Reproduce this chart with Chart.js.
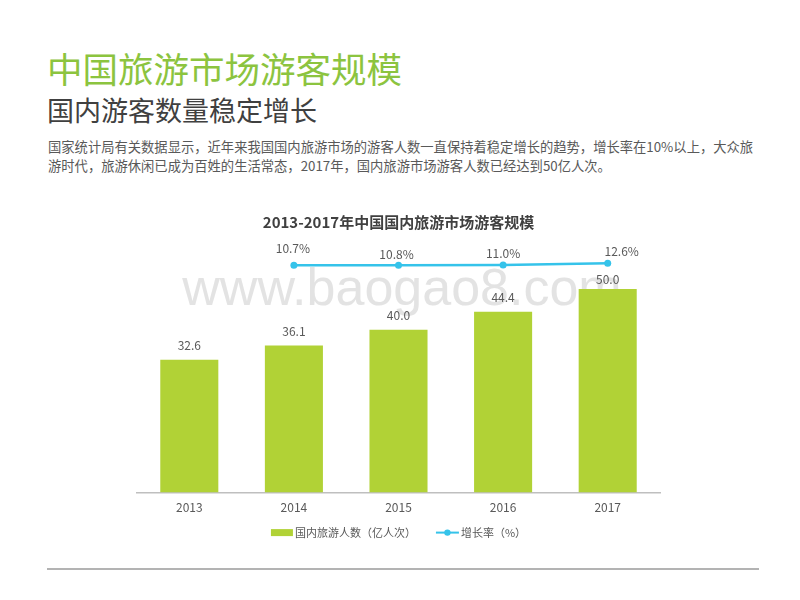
<!DOCTYPE html>
<html>
<head>
<meta charset="utf-8">
<script src="https://cdn.jsdelivr.net/npm/chart.js@4.4.1/dist/chart.umd.min.js"></script>
<style>
  html, body { margin: 0; padding: 0; }
  body {
    width: 800px; height: 600px; position: relative; overflow: hidden; background: #ffffff;
    font-family: "Noto Sans CJK SC", "Noto Sans", sans-serif;
  }
  .title {
    position: absolute; left: 47px; top: 44px; font-size: 35.5px; line-height: 48px;
    color: #8cc43f; white-space: nowrap;
  }
  .subtitle {
    position: absolute; left: 47px; top: 93px; font-size: 27px; line-height: 34px;
    color: #404040; white-space: nowrap;
  }
  .intro {
    position: absolute; left: 48px; top: 137px; font-size: 13.3px; line-height: 19px;
    color: #595959; white-space: nowrap;
  }
  .rule {
    position: absolute; left: 47px; top: 568px; width: 712px; height: 2px; background: #b3b3b3;
  }
  #wrap { position: absolute; left: 0; top: 195px; width: 800px; height: 365px; }
</style>
</head>
<body>
<div class="title">中国旅游市场游客规模</div>
<div class="subtitle">国内游客数量稳定增长</div>
<div class="intro">国家统计局有关数据显示，近年来我国国内旅游市场的游客人数一直保持着稳定增长的趋势，增长率在10%以上，大众旅<br>游时代，旅游休闲已成为百姓的生活常态，2017年，国内旅游市场游客人数已经达到50亿人次。</div>
<div id="wrap"><canvas id="chart" width="800" height="365"></canvas></div>
<div class="rule"></div>

<script>
// Years on the category axis
const years = ['2013', '2014', '2015', '2016', '2017'];
// Domestic tourist visits, 100 million trips
const visitors = [32.6, 36.1, 40.0, 44.4, 50.0];
// Year-on-year growth rate, %
const growthRate = [null, 10.7, 10.8, 11.0, 12.6];

const seriesNames = ['国内旅游人数（亿人次）', '增长率（%）'];
const chartTitle = '2013-2017年中国国内旅游市场游客规模';
const watermark = 'www.baogao8.com';

const BAR_COLOR = '#b1d236';
const LINE_COLOR = '#35c3ea';
const LABEL_COLOR = '#595959';
const FONT = '"Noto Sans CJK SC", "Noto Sans", sans-serif';

// Nudges for the rate labels (dx, dy from the point), one per year
const rateLabelShift = [[0, -15], [-1, -17], [-2, -11], [0, -12], [14, -12]];

const watermarkPlugin = {
  id: 'watermark',
  beforeDatasetsDraw(chart) {
    const { ctx, chartArea } = chart;
    ctx.save();
    ctx.font = '52px "Liberation Sans", Arial, sans-serif';
    ctx.fillStyle = 'rgba(200,200,200,0.5)';
    ctx.textAlign = 'center';
    ctx.textBaseline = 'alphabetic';
    ctx.fillText(watermark, 402, chartArea.top + 60);
    ctx.restore();
  }
};

const valueLabelPlugin = {
  id: 'valueLabels',
  afterDatasetsDraw(chart) {
    const { ctx } = chart;
    ctx.save();
    ctx.font = '12px ' + FONT;
    ctx.fillStyle = LABEL_COLOR;
    ctx.textAlign = 'center';
    ctx.textBaseline = 'middle';
    chart.getDatasetMeta(0).data.forEach((bar, i) => {
      const offset = i === visitors.length - 1 ? 10 : 14;
      ctx.fillText(visitors[i].toFixed(1), bar.x, bar.y - offset);
    });
    chart.getDatasetMeta(1).data.forEach((pt, i) => {
      if (growthRate[i] == null) return;
      const [dx, dy] = rateLabelShift[i];
      ctx.fillText(growthRate[i].toFixed(1) + '%', pt.x + dx, pt.y + dy);
    });
    ctx.restore();
  }
};

// Legend under the axis: a bar block for the visitors, a line with a dot for the rate
const seriesLegendPlugin = {
  id: 'seriesLegend',
  afterDraw(chart) {
    const { ctx, chartArea } = chart;
    const ds = chart.data.datasets;
    const y = chartArea.bottom + 40;
    const swatchW = [22, 23];
    const textGap = 2, itemGap = 20;
    ctx.save();
    ctx.font = '11px ' + FONT;
    ctx.textBaseline = 'middle';
    ctx.textAlign = 'left';
    const widths = ds.map((d, i) => swatchW[i] + textGap + ctx.measureText(d.label).width);
    const total = widths[0] + itemGap + widths[1];
    let x = (chartArea.left + chartArea.right) / 2 - total / 2;
    ds.forEach((d, i) => {
      if (d.type === 'bar') {
        ctx.fillStyle = d.backgroundColor;
        ctx.fillRect(x, y - 3.5, swatchW[i], 7);
      } else {
        ctx.strokeStyle = d.borderColor;
        ctx.lineWidth = 2;
        ctx.beginPath(); ctx.moveTo(x, y); ctx.lineTo(x + swatchW[i], y); ctx.stroke();
        ctx.fillStyle = d.borderColor;
        ctx.beginPath(); ctx.arc(x + swatchW[i] / 2, y, 3.2, 0, Math.PI * 2); ctx.fill();
      }
      ctx.fillStyle = LABEL_COLOR;
      ctx.fillText(d.label, x + swatchW[i] + textGap, y);
      x += widths[i] + itemGap;
    });
    ctx.restore();
  }
};

new Chart(document.getElementById('chart'), {
  data: {
    labels: years,
    datasets: [
      {
        type: 'bar',
        label: seriesNames[0],
        data: visitors,
        backgroundColor: BAR_COLOR,
        yAxisID: 'y',
        categoryPercentage: 1,
        barPercentage: 0.555,
        order: 2
      },
      {
        type: 'line',
        label: seriesNames[1],
        data: growthRate,
        borderColor: LINE_COLOR,
        backgroundColor: LINE_COLOR,
        borderWidth: 2.5,
        pointRadius: 3.5,
        pointBackgroundColor: LINE_COLOR,
        pointBorderWidth: 0,
        tension: 0,
        yAxisID: 'y2',
        order: 1
      }
    ]
  },
  options: {
    responsive: false,
    animation: false,
    layout: { padding: { left: 137, right: 140, top: 0, bottom: 37 } },
    scales: {
      x: {
        grid: { display: false, drawTicks: false },
        border: { display: true, color: '#bfbfbf', width: 1.5 },
        ticks: { color: LABEL_COLOR, font: { family: FONT, size: 12 }, padding: 8 }
      },
      y: { display: false, min: 0, max: 60.8 },
      y2: { display: false, min: -205, max: 30 }
    },
    plugins: {
      title: {
        display: true,
        text: chartTitle,
        color: '#404040',
        font: { family: FONT, size: 15, weight: 'bold' },
        padding: { top: 18, bottom: 14 }
      },
      legend: { display: false },
      tooltip: { enabled: false }
    }
  },
  plugins: [watermarkPlugin, valueLabelPlugin, seriesLegendPlugin]
});
</script>
</body>
</html>
